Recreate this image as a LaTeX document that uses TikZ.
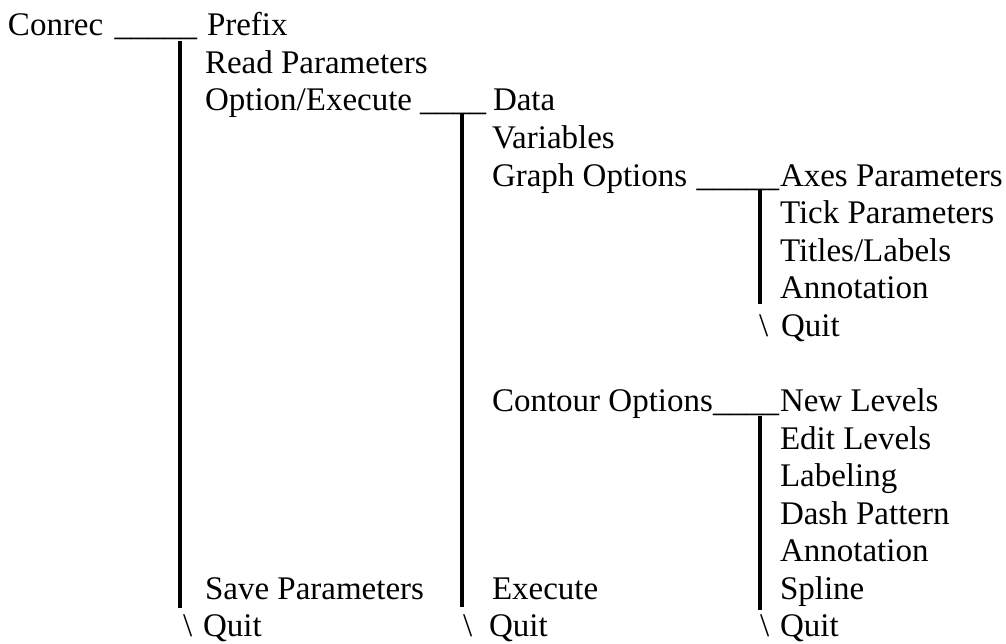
\documentclass[tikz,border=0pt]{standalone}
\usepackage{fontspec}
\setmainfont{Liberation Serif}
\begin{document}
\begin{tikzpicture}[x=1pt,y=-1pt,
  txt/.style={anchor=base west, inner sep=0pt, outer sep=0pt, font=\fontsize{33}{38}\selectfont},
  bar/.style={line width=4pt, black}]
\useasboundingbox (0,0) rectangle (1006,644);
% level 1
\node[txt] (conrec) at (8,36) {Conrec};
\node[txt] (u1) at (114.5,36) {\_\_\_\_\_};
% level 2
\node[txt] (prefix) at (207,36) {Prefix};
\node[txt] (read) at (205,73.5) {Read Parameters};
\node[txt] (optexec) at (205,111) {Option/Execute};
\node[txt] (u2) at (420,111) {\_\_\_\_};
\node[txt] (save) at (205,599.2) {Save Parameters};
\node[txt] (bsA) at (183,636.8) {\textbackslash};
\node[txt] (quitA) at (203,636.8) {Quit};
% level 3
\node[txt] (data) at (493,111) {Data};
\node[txt] (vars) at (492,148.6) {Variables};
\node[txt] (graph) at (492,186.2) {Graph Options};
\node[txt] (u3) at (696.5,186.2) {\_\_\_\_\_};
\node[txt] (contour) at (492,411.5) {Contour Options};
\node[txt] (u4) at (713,411.5) {\_\_\_\_};
\node[txt] (execute) at (492,599.2) {Execute};
\node[txt] (bsB) at (463,636.8) {\textbackslash};
\node[txt] (quitB) at (489,636.8) {Quit};
% level 4 (graph)
\node[txt] (axes) at (780,186.2) {Axes Parameters};
\node[txt] (tick) at (780,223.7) {Tick Parameters};
\node[txt] (titles) at (780,261.3) {Titles/Labels};
\node[txt] (annotA) at (780,298.8) {Annotation};
\node[txt] (bsC) at (759,336.4) {\textbackslash};
\node[txt] (quitC) at (781,336.4) {Quit};
% level 4 (contour)
\node[txt] (newlev) at (780,411.5) {New Levels};
\node[txt] (editlev) at (780,449) {Edit Levels};
\node[txt] (labeling) at (780,486.6) {Labeling};
\node[txt] (dash) at (780,524.1) {Dash Pattern};
\node[txt] (annotB) at (780,561.7) {Annotation};
\node[txt] (spline) at (780,599.2) {Spline};
\node[txt] (bsD) at (760,636.8) {\textbackslash};
\node[txt] (quitD) at (780,636.8) {Quit};
% bars
\coordinate (b1t) at (180,41);  \coordinate (b1b) at (180,608);
\coordinate (b2t) at (462,114); \coordinate (b2b) at (462,607);
\coordinate (b3t) at (760,189); \coordinate (b3b) at (760,304);
\coordinate (b4t) at (760,416); \coordinate (b4b) at (760,610);
\draw[bar] (b1t) -- (b1b);
\draw[bar] (b2t) -- (b2b);
\draw[bar] (b3t) -- (b3b);
\draw[bar] (b4t) -- (b4b);
\end{tikzpicture}
\end{document}
